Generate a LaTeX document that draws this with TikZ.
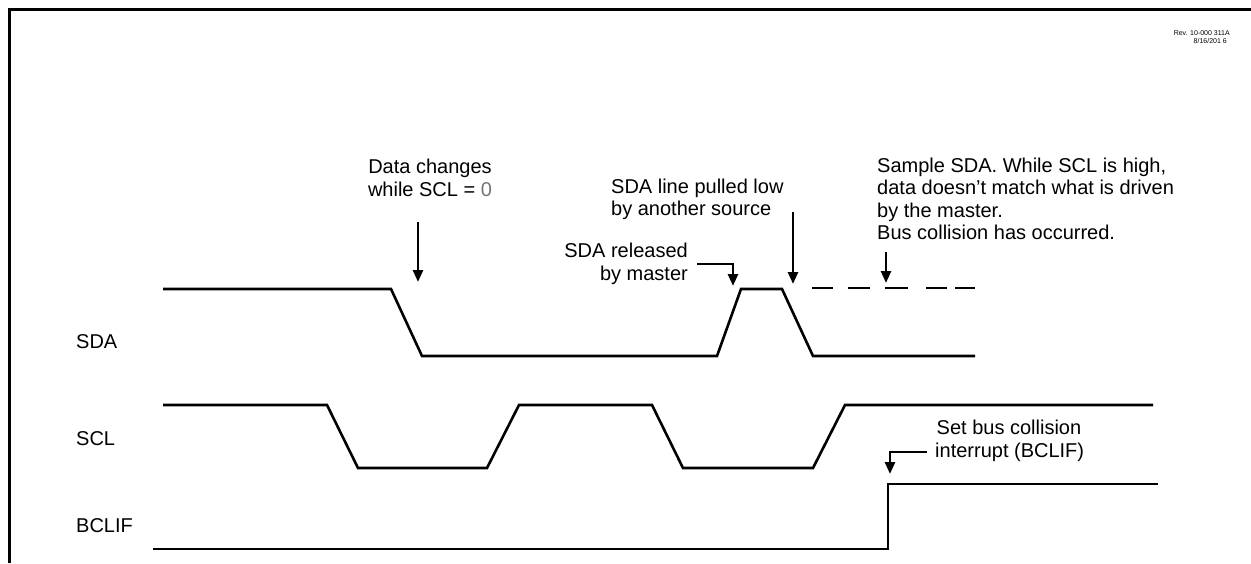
\documentclass[tikz,border=0pt]{standalone}
\usepackage{fontspec}
\setmainfont{Liberation Sans}
\usetikzlibrary{arrows.meta}
\begin{document}
\begin{tikzpicture}[x=1pt,y=-1pt,
  wave/.style={line width=2.6pt, line join=miter},
  frame/.style={line width=3pt},
  dsh/.style={line width=2pt},
  lbl/.style={inner sep=0pt, font=\fontsize{20}{23}\selectfont},
  tiny/.style={inner sep=0pt, font=\fontsize{7}{8}\selectfont},
  ptr/.style={line width=2.6pt, -{Triangle[width=10pt,length=12pt]}},
  ]
\useasboundingbox (0,0) rectangle (1251,563);
% frame
\draw[frame] (9,563) -- (9,9) -- (1251,9);
% revision
\node[tiny, anchor=base east] (rev1) at (1230,35) {Rev. 10-000 311A};
\node[tiny, anchor=base east] (rev2) at (1227,43) {8/16/201 6};
% signal names
\node[lbl, anchor=base west] (sdaname) at (76,348) {SDA};
\node[lbl, anchor=base west] (sclname) at (76,445) {SCL};
\node[lbl, anchor=base west] (bclifname) at (76,532) {BCLIF};
% waveforms
\draw[wave] (163,289) -- (391,289) -- (422,356) -- (717,356) -- (741,289) -- (782,289) -- (813,356) -- (975,356);
\draw[dsh] (812,288) -- (833,288) (848,288) -- (870,288) (885,288) -- (908,288) (926,288) -- (947,288) (955,288) -- (975,288);
\draw[wave] (163,405) -- (327,405) -- (358,468) -- (487,468) -- (519,405) -- (652,405) -- (683,468) -- (813,468) -- (845,405) -- (1153,405);
\draw[wave] (153,549) -- (888,549) -- (888,484) -- (1158,484);
% annotations
\node[lbl, anchor=base] (dc1) at (430,173) {Data changes};
\node[lbl, anchor=base] (dc2) at (430,196) {while SCL = \textcolor{black!55}{0}};
\coordinate (dcs) at (418,222);
\coordinate (dct) at (418,282);
\draw[ptr] (dcs) -- (dct);

\node[lbl, anchor=base west] (pl1) at (611,193) {SDA line pulled low};
\node[lbl, anchor=base west] (pl2) at (611,215) {by another source};
\coordinate (pls) at (793,212);
\coordinate (plt) at (793,284);
\draw[ptr] (pls) -- (plt);

\node[lbl, anchor=base east] (rl1) at (688,257) {SDA released};
\node[lbl, anchor=base east] (rl2) at (688,280) {by master};
\coordinate (rls) at (697,264);
\coordinate (rlk) at (733,264);
\coordinate (rlt) at (733,286);
\draw[ptr] (rls) -- (rlk) -- (rlt);

\node[lbl, anchor=base west] (sm1) at (877,172) {Sample SDA. While SCL is high,};
\node[lbl, anchor=base west] (sm2) at (877,194.5) {data doesn’t match what is driven};
\node[lbl, anchor=base west] (sm3) at (877,217) {by the master.};
\node[lbl, anchor=base west] (sm4) at (877,239.5) {Bus collision has occurred.};
\coordinate (sms) at (886,252);
\coordinate (smt) at (886,283);
\draw[ptr] (sms) -- (smt);

\node[lbl, anchor=base] (bc1) at (1009,434.5) {Set bus collision};
\node[lbl, anchor=base west] (bc2) at (935,457) {interrupt (BCLIF)};
\coordinate (bcs) at (927,452);
\coordinate (bck) at (890,452);
\coordinate (bct) at (890,474);
\draw[ptr] (bcs) -- (bck) -- (bct);
\end{tikzpicture}
\end{document}
